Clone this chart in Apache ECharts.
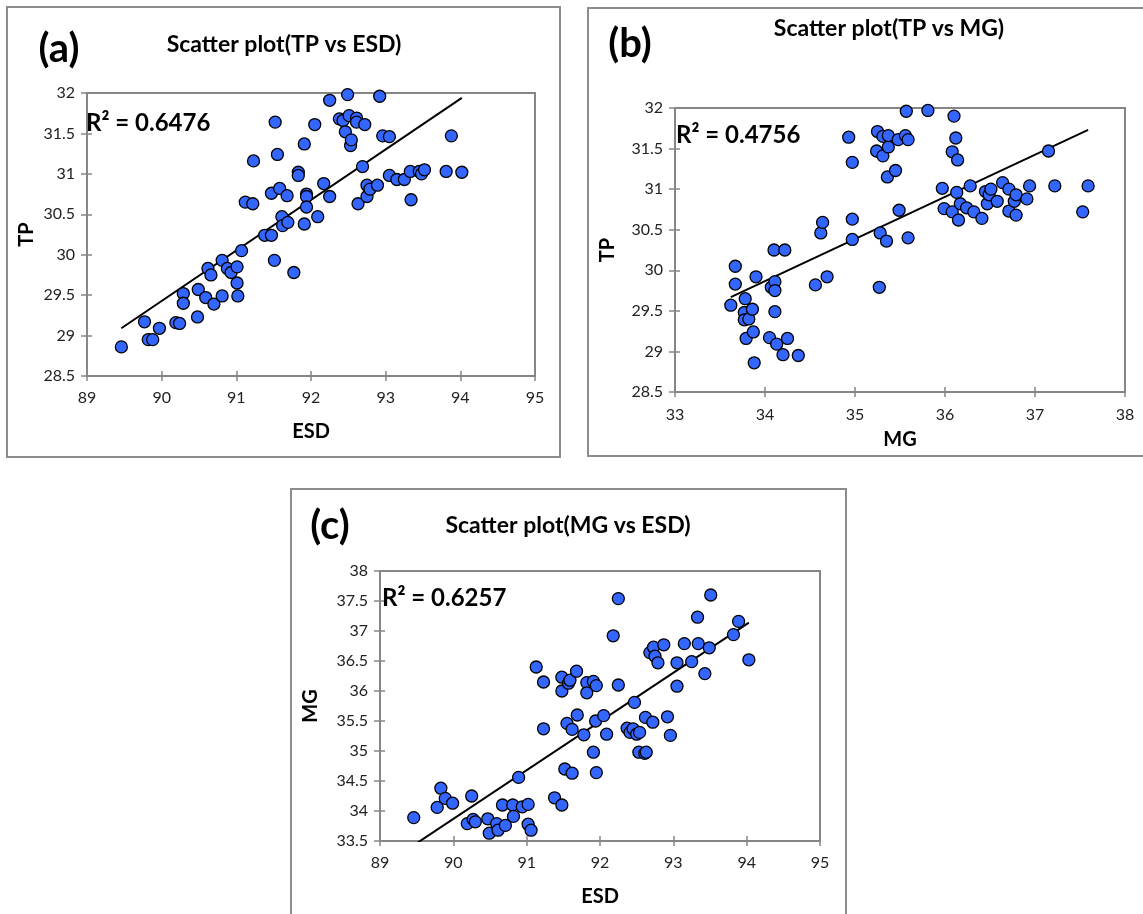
<!DOCTYPE html>
<html>
<head>
<meta charset="utf-8">
<script src="https://cdn.jsdelivr.net/npm/echarts@6/dist/echarts.min.js"></script>
<style>
html,body{margin:0;padding:0;background:#fff;}
#chart{width:1143px;height:914px;}
</style>
</head>
<body>
<div id="chart"></div>
<script>
// ---- Panel (a): TP vs ESD ----
var esdA = [89.46,89.77,89.82,89.88,89.97,90.19,90.24,90.29,90.29,90.48,
  90.49,90.59,90.62,90.66,90.70,90.81,90.81,90.88,90.93,91.01,
  91.01,91.02,91.07,91.12,91.22,91.23,91.38,91.47,91.47,91.51,
  91.52,91.55,91.58,91.61,91.62,91.68,91.69,91.77,91.83,91.83,
  91.91,91.91,91.94,91.94,91.94,92.05,92.09,92.17,92.25,92.25,
  92.38,92.43,92.46,92.49,92.51,92.53,92.54,92.61,92.61,92.63,
  92.69,92.72,92.75,92.75,92.79,92.89,92.92,92.96,93.05,93.05,
  93.15,93.25,93.33,93.34,93.45,93.48,93.52,93.81,93.88,94.02];
var tpA = [28.86,29.17,28.95,28.95,29.09,29.16,29.15,29.52,29.40,29.23,
  29.57,29.47,29.83,29.75,29.39,29.49,29.93,29.83,29.78,29.85,
  29.65,29.49,30.05,30.65,30.63,31.16,30.24,30.24,30.76,29.93,
  31.64,31.24,30.82,30.47,30.36,30.73,30.40,29.78,31.02,30.98,
  31.37,30.38,30.75,30.72,30.59,31.61,30.47,30.88,31.91,30.72,
  31.68,31.66,31.52,31.98,31.72,31.35,31.42,31.69,31.64,30.63,
  31.09,31.61,30.86,30.72,30.81,30.86,31.96,31.47,31.46,30.98,
  30.93,30.93,31.03,30.68,31.03,31.00,31.05,31.03,31.47,31.02];
var trendA = [[89.46,29.09],[94.02,31.94]];

// ---- Panel (b): TP vs MG ----
var mgB = [33.62,33.67,33.67,33.78,33.77,33.77,33.82,33.86,33.79,33.87,
  33.88,33.90,34.05,34.07,34.10,34.11,34.11,34.11,34.13,34.20,
  34.22,34.25,34.37,34.56,34.62,34.64,34.69,34.93,34.97,34.97,
  34.97,35.25,35.24,35.28,35.27,35.31,35.31,35.35,35.36,35.37,
  35.37,35.45,35.48,35.49,35.56,35.57,35.59,35.59,35.81,35.97,
  35.99,36.08,36.08,36.10,36.12,36.13,36.14,36.15,36.17,36.24,
  36.28,36.32,36.41,36.45,36.47,36.49,36.51,36.58,36.64,36.71,
  36.71,36.77,36.79,36.79,36.91,36.94,37.15,37.22,37.53,37.59];
var tpB = [29.57,30.05,29.83,29.65,29.48,29.39,29.40,29.52,29.16,29.24,
  28.86,29.92,29.17,29.79,30.25,29.86,29.75,29.49,29.09,28.96,
  30.25,29.16,28.95,29.82,30.46,30.59,29.92,31.64,30.63,31.33,
  30.38,31.71,31.47,30.46,29.79,31.65,31.41,30.36,31.15,31.52,
  31.66,31.23,31.61,30.74,31.66,31.96,31.61,30.40,31.97,31.01,
  30.76,30.72,31.46,31.90,31.63,30.96,31.36,30.62,30.82,30.77,
  31.04,30.72,30.64,30.97,30.82,30.93,31.00,30.85,31.08,31.00,
  30.73,30.85,30.93,30.68,30.88,31.04,31.47,31.04,30.72,31.04];
var trendB = [[33.62,29.67],[37.59,31.73]];

// ---- Panel (c): MG vs ESD ----
var esdC = [89.46,89.78,89.83,89.89,89.99,90.25,90.19,90.27,90.30,90.47,
  90.49,90.59,90.61,90.67,90.71,90.81,90.82,90.89,90.94,91.02,
  91.02,91.06,91.13,91.23,91.23,91.38,91.48,91.48,91.48,91.52,
  91.55,91.57,91.59,91.62,91.62,91.68,91.69,91.78,91.82,91.82,
  91.91,91.91,91.94,91.95,91.95,92.05,92.09,92.18,92.25,92.25,
  92.37,92.41,92.45,92.47,92.50,92.53,92.54,92.61,92.63,92.62,
  92.68,92.72,92.73,92.75,92.79,92.87,92.92,92.96,93.05,93.05,
  93.15,93.25,93.33,93.34,93.43,93.49,93.51,93.82,93.89,94.03];
var mgC = [33.89,34.06,34.38,34.21,34.13,34.25,33.79,33.86,33.82,33.87,
  33.63,33.79,33.68,34.10,33.76,34.10,33.91,34.56,34.07,34.11,
  33.78,33.68,36.40,36.15,35.37,34.22,34.10,36.23,36.00,34.70,
  35.46,36.13,36.18,34.63,35.36,36.33,35.60,35.27,36.14,35.97,
  36.16,34.98,35.50,34.64,36.09,35.59,35.28,36.92,37.54,36.10,
  35.38,35.31,35.37,35.81,35.28,34.98,35.31,34.96,34.98,35.56,
  36.64,35.48,36.73,36.58,36.47,36.77,35.57,35.26,36.47,36.08,
  36.79,36.49,37.23,36.79,36.29,36.72,37.60,36.94,37.16,36.52];
var trendC = [[89.46,33.43],[94.03,37.14]];

// ---- Text ----
var panelLetters = ['(a)','(b)','(c)'];
var panelTitles = ['Scatter plot(TP vs ESD)','Scatter plot(TP vs MG)','Scatter plot(MG vs ESD)'];
var r2Labels = ['R\u00b2 = 0.6476','R\u00b2 = 0.4756','R\u00b2 = 0.6257'];
var xNames = ['ESD','MG','ESD'];
var yNames = ['TP','TP','MG'];
var xRanges = [[89,95,1],[33,38,1],[89,95,1]];
var yRanges = [[28.5,32,0.5],[28.5,32,0.5],[33.5,38,0.5]];

var FONT = 'Lato, "Open Sans", sans-serif';
var AXC = '#868686';

function zip(xs, ys){ return xs.map(function(v,i){ return [v, ys[i]]; }); }

var grids = [
  {left:87, top:93, width:448, height:283},
  {left:675, top:108, width:450, height:284},
  {left:380, top:571, width:440, height:270}
];
var layout = [
  {xGap:46, yGap:50, lblMargin:14},
  {xGap:38, yGap:57, lblMargin:15},
  {xGap:46, yGap:59, lblMargin:14}
];

var xAxes = [], yAxes = [];
grids.forEach(function(g, i){
  var xr = xRanges[i], yr = yRanges[i], L = layout[i];
  xAxes.push({
    gridIndex:i, type:'value', min:xr[0], max:xr[1], interval:xr[2], position:'bottom',
    axisLine:{show:true, onZero:false, lineStyle:{color:AXC, width:2}},
    axisTick:{show:true, length:5, lineStyle:{color:AXC, width:1.5}},
    axisLabel:{margin:L.lblMargin, fontSize:16, color:'#222', fontFamily:FONT},
    splitLine:{show:false},
    name:xNames[i], nameLocation:'middle', nameGap:L.xGap,
    nameTextStyle:{fontSize:20, fontWeight:'bold', color:'#000', fontFamily:FONT}
  });
  xAxes.push({
    gridIndex:i, type:'value', min:xr[0], max:xr[1], interval:xr[2], position:'bottom',
    axisLine:{show:false}, axisTick:{show:true, inside:true, length:5, lineStyle:{color:AXC, width:1.5}},
    axisLabel:{show:false}, splitLine:{show:false}
  });
  yAxes.push({
    gridIndex:i, type:'value', min:yr[0], max:yr[1], interval:yr[2], position:'left',
    axisLine:{show:true, onZero:false, lineStyle:{color:AXC, width:2}},
    axisTick:{show:true, length:6, lineStyle:{color:AXC, width:1.5}},
    axisLabel:{margin:12, fontSize:16, color:'#222', fontFamily:FONT},
    splitLine:{show:false},
    name:yNames[i], nameLocation:'middle', nameGap:L.yGap, nameRotate:90,
    nameTextStyle:{fontSize:20, fontWeight:'bold', color:'#000', fontFamily:FONT}
  });
  yAxes.push({
    gridIndex:i, type:'value', min:yr[0], max:yr[1], interval:yr[2], position:'left',
    axisLine:{show:false}, axisTick:{show:true, inside:true, length:5, lineStyle:{color:AXC, width:1.5}},
    axisLabel:{show:false}, splitLine:{show:false}
  });
});

var pts = [zip(esdA,tpA), zip(mgB,tpB), zip(esdC,mgC)];
var trends = [trendA, trendB, trendC];
var series = [];
pts.forEach(function(d, i){
  series.push({
    type:'line', xAxisIndex:2*i, yAxisIndex:2*i, data:trends[i], showSymbol:false, symbol:'none',
    lineStyle:{color:'#000', width:2}, clip:true, z:3, silent:true
  });
  series.push({
    type:'scatter', xAxisIndex:2*i, yAxisIndex:2*i, data:d, symbolSize:12, clip:false,
    itemStyle:{color:'#3366ff', borderColor:'#000', borderWidth:1.3, opacity:1}, z:4
  });
});

var boxes = [[7,7,553,450],[588,8,620,448],[291,489,555,500]];
var letterPos = [[59,49],[630,44],[330,526]];
var titlePos = [[284,45],[889,29],[568,526]];
var r2Pos = [[86,123],[676,135],[382,598]];

var graphics = [];
boxes.forEach(function(b){
  graphics.push({type:'rect', shape:{x:b[0], y:b[1], width:b[2], height:b[3]},
    style:{fill:'none', stroke:'#8c8c8c', lineWidth:2}, z:0, silent:true});
});
for (var i=0;i<3;i++){
  graphics.push({type:'text', x:letterPos[i][0], y:letterPos[i][1], z:10,
    style:{text:panelLetters[i], font:'bold 40px '+FONT, fill:'#000', textAlign:'center', textVerticalAlign:'middle'}});
  graphics.push({type:'text', x:titlePos[i][0], y:titlePos[i][1], z:10,
    style:{text:panelTitles[i], font:'bold 23px '+FONT, fill:'#000', textAlign:'center', textVerticalAlign:'middle'}});
  graphics.push({type:'text', x:r2Pos[i][0], y:r2Pos[i][1], z:10,
    style:{text:r2Labels[i], font:'bold 24px '+FONT, fill:'#000', textAlign:'left', textVerticalAlign:'middle'}});
}

var chart = echarts.init(document.getElementById('chart'), null, {renderer:'canvas'});
chart.setOption({
  backgroundColor:'#fff',
  animation:false,
  grid: grids.map(function(g){ return {left:g.left, top:g.top, width:g.width, height:g.height,
    show:true, borderColor:AXC, borderWidth:2, backgroundColor:'transparent', containLabel:false}; }),
  xAxis: xAxes,
  yAxis: yAxes,
  series: series,
  graphic: graphics
});
</script>
</body>
</html>
